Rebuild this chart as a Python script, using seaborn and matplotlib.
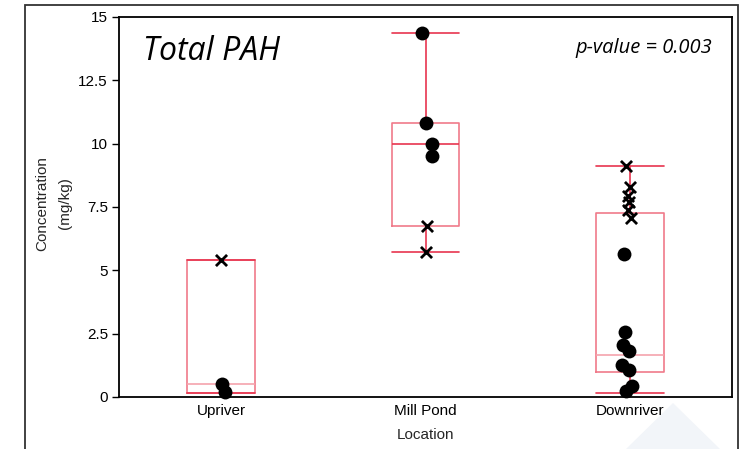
import numpy as np
import pandas as pd
import matplotlib
matplotlib.use("Agg")
import matplotlib.pyplot as plt
import seaborn as sns
from matplotlib.patches import Polygon, Rectangle

# data
locations = ["Upriver", "Mill Pond", "Downriver"]

upriver_dots = [0.51, 0.21]
upriver_crosses = [5.41]
millpond_dots = [14.36, 10.80, 9.99, 9.53]
millpond_crosses = [6.76, 5.73]
downriver_dots = [5.66, 2.58, 2.05, 1.80, 1.25, 1.05, 0.45, 0.25]
downriver_crosses = [9.10, 8.30, 7.95, 7.70, 7.40, 7.05]

# box summaries (as drawn in the reference)
box_low = [0.17, 5.73, 0.17]
box_q1 = [0.17, 6.76, 0.97]
box_med = [0.51, 9.97, 1.66]
box_q3 = [5.41, 10.80, 7.25]
box_high = [5.41, 14.36, 9.12]

y_ticks = [0, 2.5, 5, 7.5, 10, 12.5, 15]
y_ticklabels = ["0", "2.5", "5", "7.5", "10", "12.5", "15"]
title_text = "Total PAH"
pvalue_text = "p-value = 0.003"

dots = pd.DataFrame({
    "Location": ["Upriver"] * len(upriver_dots) + ["Mill Pond"] * len(millpond_dots)
                + ["Downriver"] * len(downriver_dots),
    "Concentration": upriver_dots + millpond_dots + downriver_dots,
})
crosses = pd.DataFrame({
    "Location": ["Upriver"] * len(upriver_crosses) + ["Mill Pond"] * len(millpond_crosses)
                + ["Downriver"] * len(downriver_crosses),
    "Concentration": upriver_crosses + millpond_crosses + downriver_crosses,
})

sns.set_style("white")
plt.rcParams['font.family'] = ['Liberation Sans', 'DejaVu Sans']

fig = plt.figure(figsize=(7.44, 4.49), dpi=100)

# slide decorations: faint triangle and outer frame
fig.patches.append(Polygon([[626 / 744, 0], [673 / 744, 1 - 403 / 449], [720 / 744, 0]],
                           closed=True, transform=fig.transFigure, facecolor="#f2f5f9",
                           edgecolor="none", zorder=0))
fig.patches.append(Rectangle((24.5 / 744, -0.1), (738 - 24.5) / 744, 1.1 - 5 / 449,
                             transform=fig.transFigure, fill=False, edgecolor="#333333",
                             linewidth=1.3, zorder=1))

ax = fig.add_axes([119 / 744, 1 - 397 / 449, 613 / 744, 380 / 449])
ax.set_facecolor("none")

red = "#e8354f"
stats = []
for i in range(len(locations)):
    stats.append({"whislo": box_low[i], "q1": box_q1[i], "med": box_med[i],
                  "q3": box_q3[i], "whishi": box_high[i], "fliers": []})
bp = ax.bxp(stats, positions=range(len(locations)), widths=0.33, capwidths=0.33,
            showfliers=False, patch_artist=False,
            boxprops=dict(color="#f07a8a", linewidth=1.2),
            whiskerprops=dict(color=red, linewidth=1.2),
            capprops=dict(color=red, linewidth=1.2),
            medianprops=dict(color="#f5a3ad", linewidth=1.2))
bp["medians"][1].set_color(red)

np.random.seed(3)
sns.stripplot(data=dots, x="Location", y="Concentration", order=locations,
              color="black", size=10, jitter=0.04, ax=ax, zorder=5, clip_on=False)
sns.stripplot(data=crosses, x="Location", y="Concentration", order=locations,
              color="black", marker="x", size=8, linewidth=2, jitter=0.02, ax=ax,
              zorder=5, clip_on=False)

ax.set_xlim(-0.5, 2.5)
ax.set_ylim(0, 15)
ax.set_yticks(y_ticks)
ax.set_yticklabels(y_ticklabels)
ax.set_xticks(range(len(locations)))
ax.set_xticklabels(locations)
ax.set_xticks([0.5, 1.5], minor=True)
ax.tick_params(axis="x", which="major", length=0, labelsize=11, pad=5, colors="black")
ax.tick_params(axis="x", which="minor", length=5, width=1, color="#555555", direction="out")
ax.tick_params(axis="y", length=5, width=1, labelsize=11, direction="out", colors="black",
               left=True, pad=3)
for s in ax.spines.values():
    s.set_color("black")
    s.set_linewidth(1.3)

ax.set_xlabel("Location", fontsize=11, labelpad=7)
ax.set_ylabel("Concentration\n(mg/kg)", fontsize=11, linespacing=1.75)
ax.yaxis.set_label_coords(-0.077, 0.51)

ax.text(0.039, 0.887, title_text, transform=ax.transAxes, fontsize=23,
        fontstyle="italic", family=["Open Sans", "DejaVu Sans"], ha="left", va="baseline",
        color="black")
ax.text(0.967, 0.905, pvalue_text, transform=ax.transAxes, fontsize=14.5,
        fontstyle="italic", family=["Open Sans", "DejaVu Sans"], ha="right", va="baseline",
        color="black")

fig.savefig("out.png", dpi=100)
